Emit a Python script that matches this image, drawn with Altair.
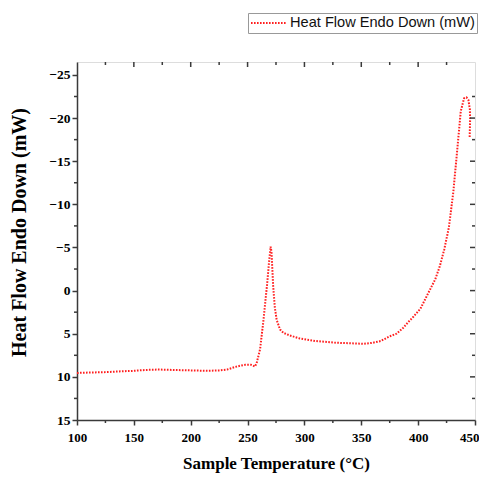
import altair as alt
import pandas as pd

temps = [100, 110, 125, 140, 150, 160, 171, 185, 200, 215, 225, 232, 239, 244, 248, 253, 256.5,
         258, 261, 264, 267, 269, 270.3, 271, 272.5, 274, 275.6, 278.5, 281.5, 287, 296, 310,
         328, 340, 352, 360, 367, 375, 381, 387, 391, 396, 402, 410, 415, 419, 423, 427, 431,
         434.5, 437.5, 440.4, 442.5, 444.2, 445.5, 445.7, 445.3]
heat = [9.55, 9.5, 9.45, 9.35, 9.3, 9.2, 9.15, 9.2, 9.25, 9.3, 9.25, 9.15, 8.85, 8.7, 8.6, 8.6, 8.8,
        8.4, 6.8, 3.4, -0.5, -3.5, -5.1, -4.5, -0.5, 2.0, 3.4, 4.5, 4.9, 5.2, 5.55, 5.85,
        6.05, 6.1, 6.17, 6.05, 5.85, 5.3, 5.0, 4.3, 3.7, 3.0, 2.1, 0.0, -1.3, -2.8, -4.8, -7.3, -11.5,
        -16.5, -20.8, -22.3, -22.4, -22.1, -21.0, -19.8, -17.7]
series_name = "Heat Flow Endo Down (mW)"

x_major = [100, 150, 200, 250, 300, 350, 400, 450]
x_minor = [125, 175, 225, 275, 325, 375, 425]
y_major = [-25, -20, -15, -10, -5, 0, 5, 10, 15]
y_minor = [-22.5, -17.5, -12.5, -7.5, -2.5, 2.5, 7.5, 12.5]

W, H = 398, 358
FRAME = "#3a3a3a"
RED = "#ff1f1f"

df = pd.DataFrame({"T": temps, "V": heat, "i": list(range(len(temps))), "s": series_name})

xs = alt.Scale(domain=[100, 450], nice=False, zero=False)
ys = alt.Scale(domain=[-26.5, 15], reverse=True, nice=False, zero=False)

axis_common = dict(labelFont="Liberation Serif", labelFontWeight="bold",
                   labelColor="black", titleFont="Liberation Serif", titleFontWeight="bold",
                   titleColor="black", domainColor=FRAME, domainWidth=1.5,
                   tickColor=FRAME, tickWidth=1.5, tickSize=5, grid=False, labelFlush=False)

last_x = "datum.value === 450"

line = alt.Chart(df).mark_line(strokeWidth=2, strokeDash=[1.6, 1.4]).encode(
    x=alt.X("T:Q", scale=xs, title="Sample Temperature (°C)",
            axis=alt.Axis(values=x_major, labelPadding=6, titlePadding=11, labelFontSize=13,
                          titleFontSize=17,
                          labelAlign={"condition": {"test": last_x, "value": "right"}, "value": "center"},
                          labelOffset={"condition": {"test": last_x, "value": 4}, "value": 0},
                          **axis_common)),
    y=alt.Y("V:Q", scale=ys, title="Heat Flow Endo Down (mW)",
            axis=alt.Axis(values=y_major, labelPadding=2, titlePadding=19, labelFontSize=13.5,
                          titleFontSize=20, titleY=170, **axis_common)),
    color=alt.Color("s:N", scale=alt.Scale(range=[RED]),
                    legend=alt.Legend(title=None, orient="none", legendX=171, legendY=-49,
                                      symbolType="stroke", symbolSize=1225, symbolStrokeWidth=2,
                                      symbolDash=[1.6, 1.4], labelFont="Liberation Sans",
                                      labelFontSize=14.6, labelColor="#111", labelOffset=3,
                                      labelLimit=400, clipHeight=16,
                                      strokeColor="#999", padding=2)),
    order="i:Q",
)

xminor_df = pd.DataFrame({"x": x_minor})
xmajor_df = pd.DataFrame({"x": x_major[1:-1]})
yminor_df = pd.DataFrame({"y": y_minor})
ymajor_df = pd.DataFrame({"y": y_major[1:-1]})

tick = dict(color=FRAME, strokeWidth=1.5)

bx_minor = alt.Chart(xminor_df).mark_rule(**tick).encode(
    x=alt.X("x:Q", scale=xs), y=alt.value(H), y2=alt.value(H + 3))
tx_minor = alt.Chart(xminor_df).mark_rule(**tick).encode(
    x=alt.X("x:Q", scale=xs), y=alt.value(0), y2=alt.value(3))
tx_major = alt.Chart(xmajor_df).mark_rule(**tick).encode(
    x=alt.X("x:Q", scale=xs), y=alt.value(0), y2=alt.value(5))
ly_minor = alt.Chart(yminor_df).mark_rule(**tick).encode(
    y=alt.Y("y:Q", scale=ys), x=alt.value(-3), x2=alt.value(0))
ry_minor = alt.Chart(yminor_df).mark_rule(**tick).encode(
    y=alt.Y("y:Q", scale=ys), x=alt.value(W - 3), x2=alt.value(W))
ry_major = alt.Chart(ymajor_df).mark_rule(**tick).encode(
    y=alt.Y("y:Q", scale=ys), x=alt.value(W - 5), x2=alt.value(W))

chart = alt.layer(line, bx_minor, tx_minor, tx_major, ly_minor, ry_minor, ry_major).properties(
    width=W, height=H,
    autosize=alt.AutoSizeParams(type="none"),
    padding={"left": 69, "top": 54, "right": 4, "bottom": 53},
).configure_view(stroke=FRAME, strokeWidth=1.5).configure(background="white")

chart.save("out.html", embed_options={"renderer": "svg", "actions": False})
